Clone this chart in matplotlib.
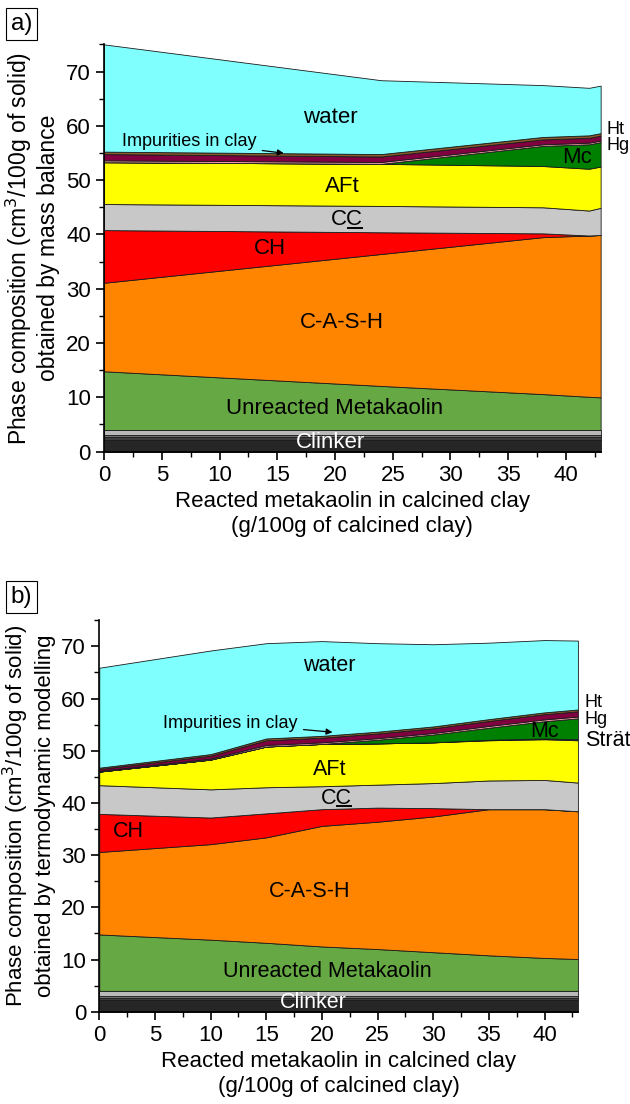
import matplotlib.pyplot as plt
from matplotlib.ticker import MultipleLocator
from matplotlib.lines import Line2D

plt.rcParams['font.family'] = ['Liberation Sans', 'DejaVu Sans']

# ---- a) phase volumes from mass balance (cm3/100g of solid) ----
xa = [0, 24, 38, 42, 43]
clk1_a = [2.2, 2.2, 2.2, 2.2, 2.2]
clk2_a = [0.45, 0.45, 0.45, 0.45, 0.45]
clk3_a = [0.4, 0.4, 0.4, 0.4, 0.4]
clk4_a = [0.95, 0.95, 0.95, 0.95, 0.95]
mk_a = [10.8, 8.1, 6.6, 6.1, 6.0]
cash_a = [16.3, 24.3, 28.9, 29.7, 29.9]
ch_a = [9.7, 4.0, 0.7, 0.0, 0.0]
cc_a = [4.8, 4.85, 4.8, 4.6, 5.0]
aft_a = [7.7, 7.75, 7.6, 7.7, 7.6]
mc_a = [0.0, 0.0, 3.7, 4.5, 4.5]
hg_a = [0.35, 0.35, 0.3, 0.3, 0.3]
ht_a = [1.15, 1.0, 0.9, 0.9, 0.9]
imp_a = [0.45, 0.45, 0.45, 0.45, 0.45]
water_a = [19.75, 13.6, 9.55, 8.75, 8.75]

# ---- b) phase volumes from thermodynamic modelling ----
xb = [0, 10, 15, 20, 25, 30, 35, 40, 43]
clk1_b = [2.2, 2.2, 2.2, 2.2, 2.2, 2.2, 2.2, 2.2, 2.2]
clk2_b = [0.45, 0.45, 0.45, 0.45, 0.45, 0.45, 0.45, 0.45, 0.45]
clk3_b = [0.4, 0.4, 0.4, 0.4, 0.4, 0.4, 0.4, 0.4, 0.4]
clk4_b = [0.95, 0.95, 0.95, 0.95, 0.95, 0.95, 0.95, 0.95, 0.95]
mk_b = [10.8, 9.8, 9.2, 8.5, 8.0, 7.4, 6.8, 6.3, 6.1]
cash_b = [15.8, 18.3, 20.2, 23.1, 24.4, 26.0, 28.0, 28.5, 28.3]
ch_b = [7.3, 5.1, 4.6, 3.2, 2.7, 1.6, 0.0, 0.0, 0.0]
cc_b = [5.5, 5.4, 5.0, 4.4, 4.4, 4.8, 5.5, 5.6, 5.5]
aft_b = [2.6, 5.7, 7.8, 8.1, 7.9, 7.8, 7.7, 7.8, 8.1]
strat_b = [0.0, 0.0, 0.0, 0.0, 0.0, 0.0, 0.1, 0.15, 0.2]
mc_b = [0.0, 0.0, 0.0, 0.0, 0.7, 1.5, 2.3, 3.3, 4.0]
hg_b = [0.15, 0.2, 0.3, 0.3, 0.3, 0.3, 0.35, 0.35, 0.35]
ht_b = [0.35, 0.55, 0.9, 0.9, 0.9, 0.9, 0.95, 1.0, 1.0]
imp_b = [0.25, 0.3, 0.35, 0.35, 0.35, 0.35, 0.35, 0.35, 0.35]
water_b = [19.15, 19.85, 18.25, 18.15, 16.95, 15.75, 14.65, 13.85, 13.2]

c_clk = ['#262626', '#3d3d3d', '#6e6e6e', '#b9b9b9']
c_mk = '#66a844'
c_cash = '#ff8400'
c_ch = '#ff0000'
c_cc = '#c8c8c8'
c_aft = '#ffff00'
c_strat = '#3355cc'
c_mc = '#008000'
c_hg = '#f2a0a8'
c_ht = '#800040'
c_imp = '#8b5a2b'
c_water = '#80ffff'

fig = plt.figure(figsize=(6.3, 11.04), dpi=100)
ax1 = fig.add_axes([0.1651, 0.5909, 0.7883, 0.3689])
ax2 = fig.add_axes([0.1576, 0.0836, 0.7597, 0.3546])

ax1.stackplot(xa, clk1_a, clk2_a, clk3_a, clk4_a, mk_a, cash_a, ch_a, cc_a,
              aft_a, mc_a, hg_a, ht_a, imp_a, water_a,
              colors=c_clk + [c_mk, c_cash, c_ch, c_cc, c_aft, c_mc, c_hg, c_ht, c_imp, c_water],
              edgecolor='#1a1a1a', linewidth=0.6)
ax2.stackplot(xb, clk1_b, clk2_b, clk3_b, clk4_b, mk_b, cash_b, ch_b, cc_b,
              aft_b, strat_b, mc_b, hg_b, ht_b, imp_b, water_b,
              colors=c_clk + [c_mk, c_cash, c_ch, c_cc, c_aft, c_strat, c_mc, c_hg, c_ht, c_imp, c_water],
              edgecolor='#1a1a1a', linewidth=0.6)

for ax in (ax1, ax2):
    ax.set_xlim(0, 43)
    ax.set_ylim(0, 75)
    ax.spines['top'].set_visible(False)
    ax.spines['right'].set_visible(False)
    ax.spines['left'].set_linewidth(1.2)
    ax.spines['bottom'].set_linewidth(1.2)
    ax.xaxis.set_major_locator(MultipleLocator(5))
    ax.xaxis.set_minor_locator(MultipleLocator(2.5))
    ax.yaxis.set_major_locator(MultipleLocator(10))
    ax.yaxis.set_minor_locator(MultipleLocator(5))
    ax.tick_params(which='major', direction='out', length=6, width=1.2, labelsize=16)
    ax.tick_params(which='minor', direction='out', length=3.5, width=1.0)
    ax.set_xlabel('Reacted metakaolin in calcined clay\n(g/100g of calcined clay)', fontsize=16)

ax1.set_ylabel('Phase composition (cm$^3$/100g of solid)\nobtained by mass balance', fontsize=16.5)
ax2.set_ylabel('Phase composition (cm$^3$/100g of solid)\nobtained by termodynamic modelling', fontsize=16)

big = 15.5
small = 13

# labels, panel a
ax1.text(19.6, 61.5, 'water', ha='center', va='center', fontsize=16)
ax1.annotate('Impurities in clay', xy=(15.8, 54.9), xytext=(7.4, 57.1),
             ha='center', va='center', fontsize=small,
             arrowprops=dict(arrowstyle='-|>', color='k', lw=0.9, mutation_scale=9))
ax1.text(20.6, 48.9, 'AFt', ha='center', va='center', fontsize=16)
cc1 = ax1.text(21, 42.7, 'CC', ha='center', va='center', fontsize=16)
ax1.text(14.4, 37.5, 'CH', ha='center', va='center', fontsize=16)
ax1.text(20.6, 23.7, 'C-A-S-H', ha='center', va='center', fontsize=16)
ax1.text(20, 7.9, 'Unreacted Metakaolin', ha='center', va='center', fontsize=16)
ax1.text(19.6, 1.7, 'Clinker', ha='center', va='center', fontsize=16, color='white')
ax1.text(41, 54.1, 'Mc', ha='center', va='center', fontsize=16)
ax1.text(43.5, 59.3, 'Ht', ha='left', va='center', fontsize=small, clip_on=False)
ax1.text(43.5, 56.3, 'Hg', ha='left', va='center', fontsize=small, clip_on=False)

# labels, panel b
ax2.text(20.7, 66.4, 'water', ha='center', va='center', fontsize=big)
ax2.annotate('Impurities in clay', xy=(21.2, 53.5), xytext=(11.8, 55.3),
             ha='center', va='center', fontsize=small,
             arrowprops=dict(arrowstyle='-|>', color='k', lw=0.9, mutation_scale=9))
ax2.text(20.7, 46.4, 'AFt', ha='center', va='center', fontsize=big)
cc2 = ax2.text(21.3, 40.9, 'CC', ha='center', va='center', fontsize=big)
ax2.text(2.6, 34.5, 'CH', ha='center', va='center', fontsize=big)
ax2.text(18.9, 23.0, 'C-A-S-H', ha='center', va='center', fontsize=big)
ax2.text(20.5, 7.7, 'Unreacted Metakaolin', ha='center', va='center', fontsize=big)
ax2.text(19.2, 1.7, 'Clinker', ha='center', va='center', fontsize=big, color='white')
ax2.text(40.0, 53.7, 'Mc', ha='center', va='center', fontsize=big)
ax2.text(43.6, 59.2, 'Ht', ha='left', va='center', fontsize=small, clip_on=False)
ax2.text(43.6, 56.0, 'Hg', ha='left', va='center', fontsize=small, clip_on=False)
ax2.text(43.6, 52.0, 'Strät', ha='left', va='center', fontsize=big, clip_on=False)

fig.text(0.034, 0.978, 'a)', ha='center', va='center', fontsize=17.5,
         bbox=dict(boxstyle='square,pad=0.2', fc='white', ec='k', lw=0.8))
fig.text(0.034, 0.459, 'b)', ha='center', va='center', fontsize=17.5,
         bbox=dict(boxstyle='square,pad=0.2', fc='white', ec='k', lw=0.8))

# underline the second C of CC (carbonate notation)
fig.canvas.draw()
inv = fig.transFigure.inverted()
for t in (cc1, cc2):
    bb = t.get_window_extent()
    p = inv.transform([[bb.x0 + bb.width * 0.53, bb.y0 + 2.5], [bb.x1 - 1, bb.y0 + 2.5]])
    fig.add_artist(Line2D(p[:, 0], p[:, 1], transform=fig.transFigure, color='k', lw=1.4))

plt.savefig('out.png', dpi=100)
